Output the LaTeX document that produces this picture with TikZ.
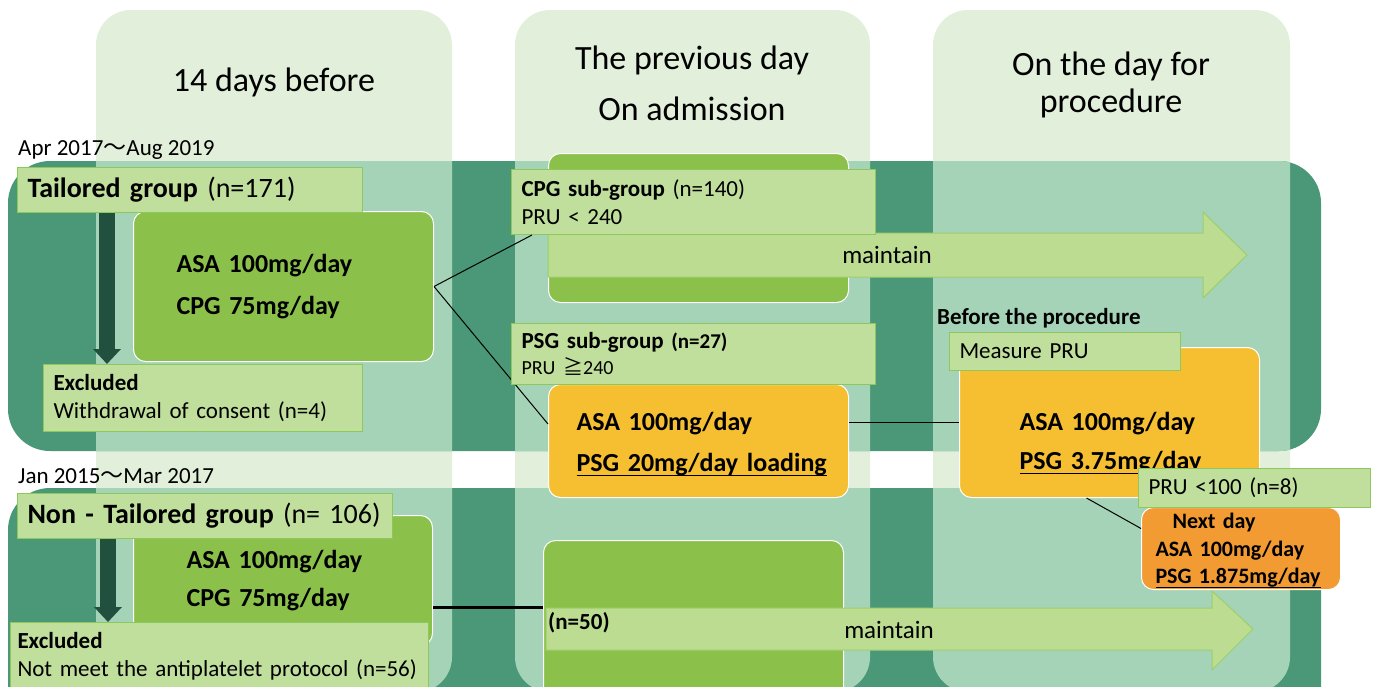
\documentclass[tikz,border=0pt]{standalone}
\usepackage{fontspec}
\setmainfont{Carlito}
\newfontfamily\cjkfont{Noto Sans CJK JP}
\usetikzlibrary{positioning,calc,arrows.meta}

\definecolor{colbg}{RGB}{226,239,218}
\definecolor{banddark}{RGB}{74,152,120}
\definecolor{bandmid}{RGB}{165,211,184}
\definecolor{grnfill}{RGB}{139,193,74}
\definecolor{lblfill}{RGB}{192,222,156}
\definecolor{lblline}{RGB}{141,200,90}
\definecolor{orgfill}{RGB}{246,191,49}
\definecolor{dkorgfill}{RGB}{242,155,51}
\definecolor{exdark}{RGB}{34,80,63}
\definecolor{mtfill}{RGB}{188,220,146}
\definecolor{mtline}{RGB}{156,207,106}

\newcommand{\fsz}[2]{\fontsize{#1}{#2}\selectfont}
\newcommand{\tld}{{\cjkfont ～}}
\newcommand{\ulx}[1]{\underline{\raisebox{0pt}[\height][2.5pt]{#1}}}

\tikzset{
  lbl/.style={draw=lblline, fill=lblfill, line width=1pt, anchor=north west, align=left,
    inner xsep=10pt, inner ysep=0pt, font=\fsz{23}{28}},
  drugbox/.style={draw=white, line width=1pt, rounded corners=12pt, fill=#1, anchor=north west,
    align=left, inner ysep=0pt, font=\bfseries\fsz{26}{42}},
  hdr/.style={align=center, inner sep=0pt, font=\fsz{34}{#1}},
  link/.style={draw=black, line width=1pt},
  exarrow/.style={exdark, line width=16pt, -{Triangle[width=27pt,length=15pt]}},
  mtarrow/.style={fill=mtfill, draw=mtline, line width=1pt}
}

\begin{document}
\begin{tikzpicture}[x=1pt,y=-1pt]
\useasboundingbox (0,0) rectangle (1375,686);
\clip (0,0) rectangle (1375,686);

% columns and bands
\foreach \xa/\xb in {96/452, 515/870, 933/1290}
  \fill[colbg, rounded corners=35pt] (\xa,10) rectangle (\xb,692);
\fill[banddark, rounded corners=42pt] (8,161) rectangle (1321,451);
\fill[banddark, rounded corners=42pt] (8,488) rectangle (1321,760);
\begin{scope}
  \clip[rounded corners=42pt] (8,161) rectangle (1321,451) (8,488) rectangle (1321,760);
  \foreach \xa/\xb in {96/452, 515/870, 933/1290}
    \fill[bandmid, rounded corners=35pt] (\xa,10) rectangle (\xb,692);
\end{scope}

% headers
\node[hdr=40pt] (hdrA) at (274,82) {14 days before};
\node[hdr=51pt] (hdrB) at (692,83) {The previous day\\On admission};
\node[hdr=37pt] (hdrC) at (1111,85) {On the day for\\procedure};
\node[anchor=base west, inner sep=0pt, font=\fsz{23}{28}] (dateA) at (18,155) {Apr 2017\tld Aug 2019};
\node[anchor=base west, inner sep=0pt, font=\fsz{23}{28}] (dateB) at (18,483) {Jan 2015\tld Mar 2017};

% drug boxes
\node[drugbox=grnfill, inner xsep=43pt, text width=214pt, minimum height=150pt] (g1) at (133,211)
  {ASA 100mg/day\\CPG 75mg/day};
\node[drugbox=grnfill, minimum width=300pt, minimum height=149pt] (g2) at (548,153) {};
\node[drugbox=grnfill, inner xsep=53pt, text width=193pt, minimum height=130pt, font=\bfseries\fsz{26}{38}] (g3) at (133,515)
  {ASA 100mg/day\\CPG 75mg/day};
\node[drugbox=grnfill, minimum width=300pt, minimum height=170pt] (g4) at (543,540) {};

% maintain
\draw[mtarrow] (548,233) -- (1203,233) -- (1203,212) -- (1247,255) -- (1203,298) -- (1203,277) -- (548,277) -- cycle;
\node[font=\fsz{25}{30}] (mtA) at (887,255) {maintain};
\draw[mtarrow] (546,608) -- (1212,608) -- (1212,591) -- (1253,629) -- (1212,670) -- (1212,650) -- (546,650) -- cycle;
\node[font=\fsz{25}{30}] (mtB) at (889,630) {maintain};
\node[anchor=west, inner sep=0pt, font=\bfseries\fsz{23}{28}] (n50) at (548,623) {(n=50)};

\node[drugbox=orgfill, inner xsep=28pt, text width=244pt, minimum height=113pt, font=\bfseries\fsz{26}{41}] (o1) at (548,384)
  {\rule{0pt}{24pt}ASA 100mg/day\\\ulx{PSG 20mg/day loading}};
\node[drugbox=orgfill, inner xsep=60pt, text width=180pt, minimum height=150pt, font=\bfseries\fsz{26}{39}] (o2) at (959,347)
  {\rule{0pt}{60pt}ASA 100mg/day\\\ulx{PSG 3.75mg/day}};
\node[drugbox=dkorgfill, inner xsep=14pt, text width=171pt, minimum height=82pt, font=\bfseries\fsz{22}{27.5}] (o3) at (1141,507)
  {\rule{0pt}{20pt}\hspace*{17pt}Next day\\ASA 100mg/day\\\ulx{PSG 1.875mg/day}};

% links
\draw[link] (g1.east) -- ([yshift=17pt]o1.west);
\draw[link] (o1.east |- o2.west) -- (o2.west);
\draw[link] ([xshift=-23pt]o2.south) -- ([yshift=20pt]o3.west);
\draw[link, line width=2.5pt] ([yshift=-27pt]g3.east) -- ([yshift=18pt]g4.west);

% label boxes
\node[lbl, text width=325pt, minimum height=45pt, font=\fsz{28}{34}] (tailored) at (17,167)
  {\textbf{Tailored group} (n=171)};
\node[lbl, text width=299pt, minimum height=67pt] (excl1) at (43,364)
  {\textbf{Excluded}\\Withdrawal of consent (n=4)};
\node[lbl, text width=344pt, minimum height=65pt] (cpgsub) at (511,169)
  {\textbf{CPG sub-group} (n=140)\\PRU < 240};
\node[lbl, text width=344pt, minimum height=61pt, font=\fsz{23}{26}] (psgsub) at (511,323)
  {\textbf{PSG sub-group} {\bfseries\fsz{21}{26}(n=27)}\\{\fsz{20}{26}PRU {\cjkfont ≧}240}};
\node[lbl, text width=211pt, minimum height=38pt] (measure) at (949,332) {Measure PRU};
\node[lbl, text width=212pt, minimum height=39pt] (pru100) at (1138,468) {PRU <100 (n=8)};
\node[lbl, text width=355pt, minimum height=45pt, font=\fsz{28}{34}] (nontail) at (17,493)
  {\textbf{Non - Tailored group} (n= 106)};
\node[lbl, inner xsep=7pt, text width=404pt, minimum height=68pt] (excl2) at (10,622)
  {\textbf{Excluded}\\Not meet the antiplatelet protocol (n=56)};
\node[anchor=base west, inner sep=0pt, font=\bfseries\fsz{23}{28}] (before) at (937,324) {Before the procedure};

\draw[link] (g1.east) -- ([xshift=21pt]cpgsub.south west);

% exclusion arrows
\draw[exarrow] ([xshift=90pt]tailored.south west) -- ([xshift=64pt]excl1.north west);
\draw[exarrow] ([xshift=91pt]nontail.south west) -- ([xshift=98pt]excl2.north west);
\end{tikzpicture}
\end{document}
